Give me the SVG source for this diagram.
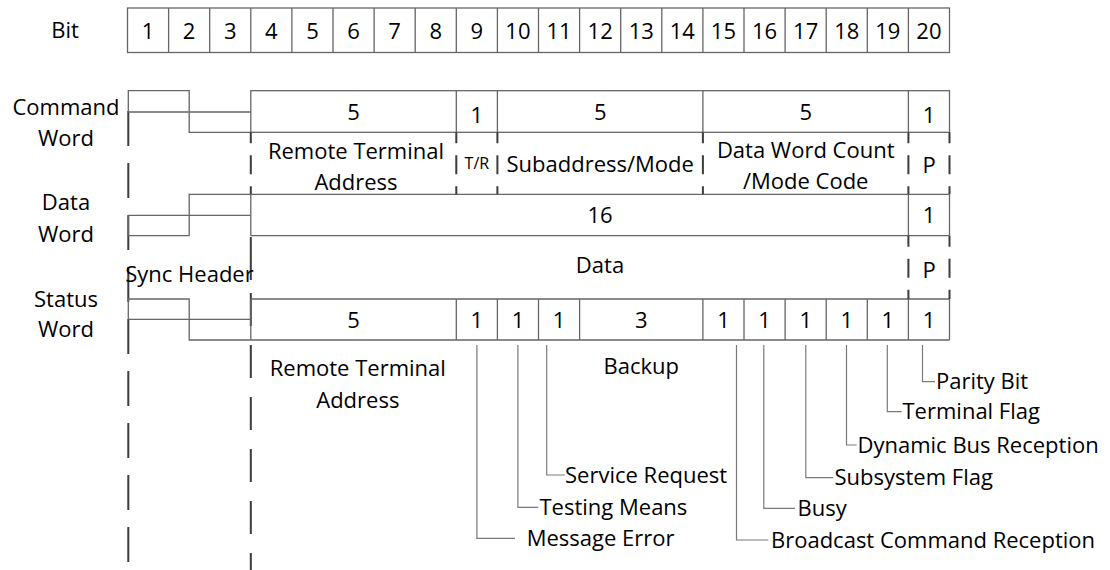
<svg xmlns="http://www.w3.org/2000/svg" width="1110" height="570" viewBox="0 0 1110 570">
<style>
  text { font-family: "Open Sans", "Liberation Sans", sans-serif; font-size: 22px; fill: #000; }
  .c { text-anchor: middle; }
  .small { font-size: 16px; }
  .big { font-size: 23px; }
  .box { fill: none; stroke: #666; stroke-width: 1.3; }
  .ln { fill: none; stroke: #666; stroke-width: 1.3; }
  .dl { fill: none; stroke: #3c3c3c; stroke-width: 2; stroke-dasharray: 11 12 19 12 20; }
  .long { fill: none; stroke: #3c3c3c; stroke-width: 2; }
  .lead { fill: none; stroke: #7a7a7a; stroke-width: 1.2; }
</style>
<rect width="1110" height="570" fill="#fff"/>

<g id="bit-row">
  <text x="65" y="38" class="c">Bit</text>
  <rect class="box" x="127.5" y="8" width="822" height="44.5"/>
  <path class="ln" d="M168.6,8V52.5M209.7,8V52.5M250.8,8V52.5M291.9,8V52.5M333,8V52.5M374.1,8V52.5M415.2,8V52.5M456.3,8V52.5M497.4,8V52.5M538.5,8V52.5M579.6,8V52.5M620.7,8V52.5M661.8,8V52.5M702.9,8V52.5M744,8V52.5M785.1,8V52.5M826.2,8V52.5M867.3,8V52.5M908.4,8V52.5"/>
  <g class="c big">
    <text x="148.05" y="39">1</text><text x="189.15" y="39">2</text><text x="230.25" y="39">3</text><text x="271.35" y="39">4</text><text x="312.45" y="39">5</text>
    <text x="353.55" y="39">6</text><text x="394.65" y="39">7</text><text x="435.75" y="39">8</text><text x="476.85" y="39">9</text><text x="517.95" y="39">10</text>
    <text x="559.05" y="39">11</text><text x="600.15" y="39">12</text><text x="641.25" y="39">13</text><text x="682.35" y="39">14</text><text x="723.45" y="39">15</text>
    <text x="764.55" y="39">16</text><text x="805.65" y="39">17</text><text x="846.75" y="39">18</text><text x="887.85" y="39">19</text><text x="928.95" y="39">20</text>
  </g>
</g>

<g id="row-labels" class="c">
  <text x="66" y="115">Command</text>
  <text x="66" y="146">Word</text>
  <text x="66" y="210">Data</text>
  <text x="66" y="242">Word</text>
  <text x="66" y="307">Status</text>
  <text x="66" y="337">Word</text>
</g>

<g id="sync-header">
  <path class="long" d="M128.3,111V570" stroke-dasharray="35 17"/>
  <path class="long" d="M250.8,237V280"/>
  <path class="long" d="M250.8,293V570" stroke-dasharray="33 19"/>
  <path class="ln" d="M128.3,112V90.7H189.2V132.3H250.8M128.3,112H250.8"/>
  <path class="ln" d="M128.3,215.3V235.7H189.2V194.3H250.8M128.3,215.3H250.8"/>
  <path class="ln" d="M128.3,319.3V299H189.2V340H250.8M128.3,319.3H250.8"/>
  <text x="189.5" y="282" class="c">Sync Header</text>
</g>

<g id="command-word">
  <rect class="box" x="250.8" y="90.7" width="698.7" height="41.6"/>
  <path class="ln" d="M456.3,90.7V132.3M497.4,90.7V132.3M702.9,90.7V132.3M908.4,90.7V132.3M250.8,194.3H949.5"/>
  <path class="dl" d="M250.8,132.3V194.3M456.3,132.3V194.3M497.4,132.3V194.3M702.9,132.3V194.3M908.4,132.3V194.3M949.5,132.3V194.3"/>
  <g class="c">
    <text x="353.6" y="120">5</text>
    <text x="476.9" y="123">1</text>
    <text x="600.2" y="120">5</text>
    <text x="805.7" y="120">5</text>
    <text x="929" y="123">1</text>
    <text x="356" y="159">Remote Terminal</text>
    <text x="356" y="190">Address</text>
    <text x="476.9" y="169" class="small">T/R</text>
    <text x="600.2" y="172">Subaddress/Mode</text>
    <text x="805.7" y="158">Data Word Count</text>
    <text x="805.7" y="189">/Mode Code</text>
    <text x="929" y="173">P</text>
  </g>
</g>

<g id="data-word">
  <path class="ln" d="M250.8,194.3V235.7M908.4,194.3V235.7M949.5,194.3V235.7M250.8,235.7H949.5M250.8,299H949.5"/>
  <path class="dl" d="M908.4,235.7V299M949.5,235.7V299"/>
  <g class="c">
    <text x="600" y="223">16</text>
    <text x="929" y="223">1</text>
    <text x="600" y="273">Data</text>
    <text x="929" y="278">P</text>
  </g>
</g>

<g id="status-word">
  <path class="ln" d="M250.8,340H949.5M250.8,299V340M456.3,299V340M497.4,299V340M538.5,299V340M579.6,299V340M702.9,299V340M744,299V340M785.1,299V340M826.2,299V340M867.3,299V340M908.4,299V340M949.5,299V340"/>
  <g class="c">
    <text x="353.6" y="328">5</text>
    <text x="476.9" y="328">1</text>
    <text x="518" y="328">1</text>
    <text x="559" y="328">1</text>
    <text x="641.3" y="328">3</text>
    <text x="723.5" y="328">1</text>
    <text x="764.6" y="328">1</text>
    <text x="805.7" y="328">1</text>
    <text x="846.8" y="328">1</text>
    <text x="887.9" y="328">1</text>
    <text x="929" y="328">1</text>
    <text x="357.8" y="376">Remote Terminal</text>
    <text x="357.8" y="408">Address</text>
    <text x="641.3" y="374">Backup</text>
  </g>
</g>

<g id="connectors">
  <path class="lead" d="M476.9,345V538.3H515"/>
  <path class="lead" d="M517.9,345V507.3H538.3"/>
  <path class="lead" d="M546.7,345V475H565"/>
  <path class="lead" d="M736.5,345V540H768.3"/>
  <path class="lead" d="M763.8,345V508.3H795"/>
  <path class="lead" d="M805.8,345V477.7H833.3"/>
  <path class="lead" d="M846.5,345V445H856.7"/>
  <path class="lead" d="M887.3,345V411.7H901.7"/>
  <path class="lead" d="M922.5,345V381.7H935"/>
</g>

<g id="bit-labels">
  <text x="526.7" y="546">Message Error</text>
  <text x="539.5" y="515">Testing Means</text>
  <text x="565" y="482.5">Service Request</text>
  <text x="771" y="547.5">Broadcast Command Reception</text>
  <text x="797.5" y="515.8">Busy</text>
  <text x="834.5" y="485">Subsystem Flag</text>
  <text x="857.5" y="452.5">Dynamic Bus Reception</text>
  <text x="902.5" y="419">Terminal Flag</text>
  <text x="936" y="389">Parity Bit</text>
</g>
</svg>
